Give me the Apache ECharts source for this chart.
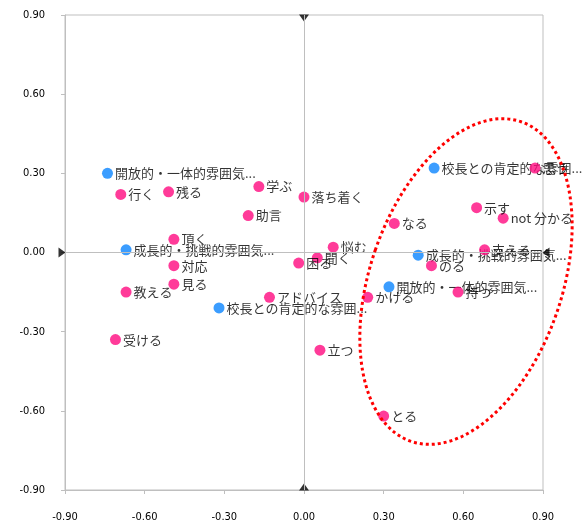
<!DOCTYPE html>
<html>
<head>
<meta charset="utf-8">
<script src="https://cdn.jsdelivr.net/npm/echarts@6/dist/echarts.min.js"></script>
<style>
  html, body { margin: 0; padding: 0; background: #fff; }
  #chart { width: 582px; height: 529px; }
</style>
</head>
<body>
<div id="chart"></div>
<script>
// 要素（青）
const blueNames = ['開放的・一体的雰囲気...', '成長的・挑戦的雰囲気...', '校長との肯定的な雰囲...',
                   '校長との肯定的な雰囲...', '成長的・挑戦的雰囲気...', '開放的・一体的雰囲気...'];
const blueX = [-0.74, -0.67, -0.32, 0.49, 0.43, 0.32];
const blueY = [0.30, 0.01, -0.21, 0.32, -0.01, -0.13];

// 動詞など（ピンク）
const pinkNames = ['行く', '残る', '学ぶ', '落ち着く', '助言', '頂く', '対応', '見る', '教える', '受ける',
                   'アドバイス', '困る', '聞く', '悩む', 'かける', '立つ', 'とる', 'なる', '示す',
                   'not 分かる', '思う', '支える', 'のる', '持つ'];
const pinkX = [-0.69, -0.51, -0.17, 0.00, -0.21, -0.49, -0.49, -0.49, -0.67, -0.71,
               -0.13, -0.02, 0.05, 0.11, 0.24, 0.06, 0.30, 0.34, 0.65,
               0.75, 0.87, 0.68, 0.48, 0.58];
const pinkY = [0.22, 0.23, 0.25, 0.21, 0.14, 0.05, -0.05, -0.12, -0.15, -0.33,
               -0.17, -0.04, -0.02, 0.02, -0.17, -0.37, -0.62, 0.11, 0.17,
               0.13, 0.32, 0.01, -0.05, -0.15];

// 軸
const axisMin = -0.9;
const axisMax = 0.9;
const axisStep = 0.3;

// 楕円の中心（データ座標）
const ellipseCenter = [0.61, -0.11];

const dom = document.getElementById('chart');
const myChart = echarts.init(dom, null, { renderer: 'canvas' });

const labelFont = '"Noto Sans CJK JP", sans-serif';
const tickFont = '"Liberation Sans Narrow", "DejaVu Sans Condensed", sans-serif';

function toPoints(names, xs, ys) {
  return names.map((n, i) => ({ name: n, value: [xs[i], ys[i]] }));
}

const axisCommon = {
  type: 'value',
  min: axisMin,
  max: axisMax,
  interval: axisStep,
  axisLine: { show: true, onZero: false, lineStyle: { color: '#bfbfbf' } },
  axisTick: { show: true, inside: false, length: 4, lineStyle: { color: '#bfbfbf' } },
  splitLine: { show: false },
  axisLabel: {
    color: '#000',
    fontFamily: tickFont,
    fontSize: 11,
    formatter: v => v.toFixed(2)
  }
};

const option = {
  animation: false,
  grid: {
    left: 65, right: 39, top: 15, bottom: 39,
    show: true, borderColor: '#bfbfbf', borderWidth: 1
  },
  xAxis: Object.assign({}, axisCommon, {
    axisLabel: Object.assign({}, axisCommon.axisLabel, { margin: 22 })
  }),
  yAxis: Object.assign({}, axisCommon, {
    axisLabel: Object.assign({}, axisCommon.axisLabel, { margin: 20 })
  }),
  series: [
    {
      type: 'scatter',
      name: 'axes',
      silent: true,
      symbol: 'triangle',
      symbolSize: [10, 7],
      itemStyle: { color: '#000' },
      data: [
        { value: [0, axisMax], symbolRotate: 180, symbolOffset: [0, 3] },
        { value: [0, axisMin], symbolRotate: 0, symbolOffset: [0, -3] },
        { value: [axisMin, 0], symbolRotate: -90, symbolOffset: [-3, 0] },
        { value: [axisMax, 0], symbolRotate: 90, symbolOffset: [3, 0] }
      ],
      markLine: {
        silent: true,
        symbol: 'none',
        label: { show: false },
        lineStyle: { color: '#bfbfbf', type: 'solid', width: 1 },
        data: [{ xAxis: 0 }, { yAxis: 0 }]
      },
      z: 1
    },
    {
      type: 'scatter',
      name: 'blue',
      symbolSize: 11,
      itemStyle: { color: '#0a84ff' },
      label: {
        show: true, position: 'right', distance: 2,
        formatter: '{b}', color: '#000', fontFamily: labelFont, fontSize: 13
      },
      data: toPoints(blueNames, blueX, blueY),
      z: 3
    },
    {
      type: 'scatter',
      name: 'pink',
      symbolSize: 11,
      itemStyle: { color: '#ff0a7f' },
      label: {
        show: true, position: 'right', distance: 2,
        formatter: '{b}', color: '#000', fontFamily: labelFont, fontSize: 13
      },
      data: toPoints(pinkNames, pinkX, pinkY),
      z: 4
    }
  ]
};

if (option && typeof option === 'object') {
  myChart.setOption(option);
}

// 赤い点線の楕円
const c = myChart.convertToPixel({ gridIndex: 0 }, ellipseCenter);
myChart.setOption({
  graphic: [{
    type: 'ellipse',
    x: c[0],
    y: c[1],
    rotation: -19 * Math.PI / 180,
    silent: true,
    z: 10,
    shape: { cx: 0, cy: 0, rx: 96, ry: 169 },
    style: { fill: 'none', stroke: '#ff0000', lineWidth: 3, lineDash: [3, 3] }
  }]
});

window.addEventListener('resize', function () {
  myChart.resize();
});
</script>
</body>
</html>
